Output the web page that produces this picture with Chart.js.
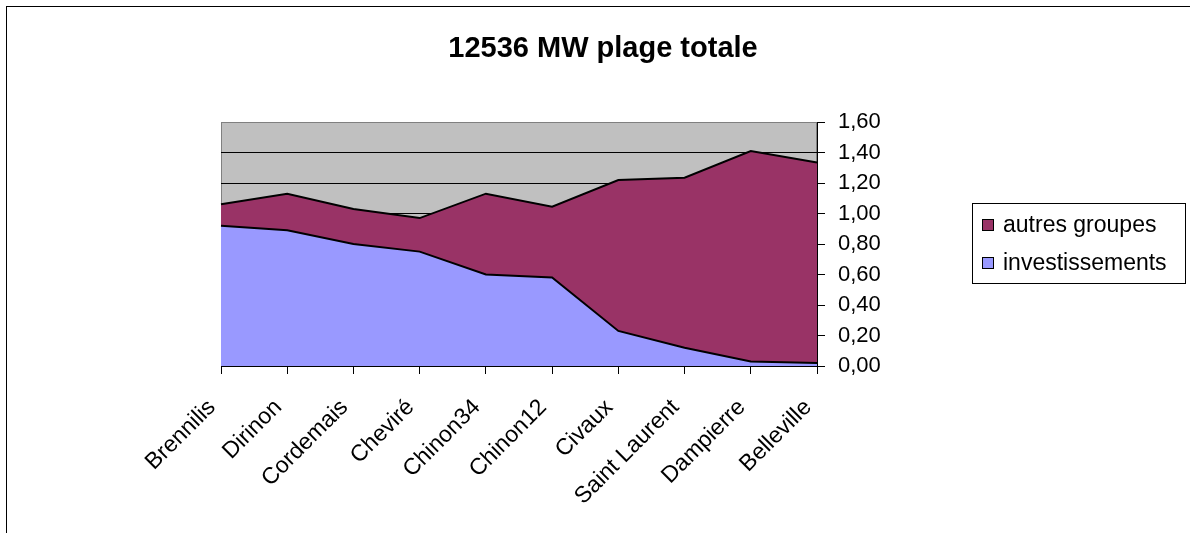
<!DOCTYPE html>
<html>
<head>
<meta charset="utf-8">
<script src="https://cdn.jsdelivr.net/npm/chart.js@4.4.1/dist/chart.umd.min.js"></script>
<style>
  html, body { margin: 0; padding: 0; background: #fff; }
  #wrap { width: 1190px; height: 533px; position: relative; }
</style>
</head>
<body>
<div id="wrap"><canvas id="c" width="1190" height="533"></canvas></div>
<script>
const chartTitle = "12536 MW plage totale";
const categories = ["Brennilis", "Dirinon", "Cordemais", "Cheviré", "Chinon34", "Chinon12", "Civaux", "Saint Laurent", "Dampierre", "Belleville"];
const investissements = [0.92, 0.89, 0.80, 0.75, 0.60, 0.58, 0.23, 0.12, 0.03, 0.02];
const autresGroupes   = [0.14, 0.24, 0.23, 0.22, 0.53, 0.465, 0.99, 1.115, 1.38, 1.315];
const seriesNames = ["investissements", "autres groupes"];
const yTicks = [0, 0.2, 0.4, 0.6, 0.8, 1.0, 1.2, 1.4, 1.6];

const FONT = 'Arial, "Liberation Sans", sans-serif';
const COL_INV = '#9999FF';
const COL_AUT = '#993366';

const decor = {
  id: 'decor',
  beforeDraw(chart) {
    const {ctx, chartArea: a} = chart;
    ctx.save();
    ctx.fillStyle = '#fff';
    ctx.fillRect(0, 0, chart.width, chart.height);
    ctx.strokeStyle = '#000';
    ctx.lineWidth = 1;
    ctx.strokeRect(6.5, 6.5, 1300, 700);
    ctx.fillStyle = '#C0C0C0';
    ctx.fillRect(a.left, a.top, a.right - a.left, a.bottom - a.top);
    ctx.strokeStyle = '#808080';
    ctx.strokeRect(a.left + 0.5, a.top + 0.5, a.right - a.left - 1, a.bottom - a.top - 1);
    ctx.restore();
  },
  afterDraw(chart) {
    const {ctx} = chart;
    ctx.save();
    ctx.fillStyle = '#000';
    ctx.font = 'bold 29px ' + FONT;
    ctx.textAlign = 'center';
    ctx.textBaseline = 'alphabetic';
    ctx.fillText(chartTitle, 603, 57);
    const lx = 972, ly = 203, lw = 213, lh = 80;
    ctx.strokeStyle = '#000';
    ctx.lineWidth = 1;
    ctx.strokeRect(lx + 0.5, ly + 0.5, lw, lh);
    const items = [[seriesNames[1], COL_AUT], [seriesNames[0], COL_INV]];
    ctx.font = '23px ' + FONT;
    ctx.textAlign = 'left';
    ctx.textBaseline = 'middle';
    items.forEach((it, i) => {
      const cy = 225 + i * 38;
      ctx.fillStyle = it[1];
      ctx.fillRect(982, cy - 6, 12, 12);
      ctx.strokeStyle = '#000';
      ctx.strokeRect(982.5, cy - 5.5, 11, 11);
      ctx.fillStyle = '#000';
      ctx.fillText(it[0], 1003, cy + 1);
    });
    ctx.restore();
  }
};

new Chart(document.getElementById('c'), {
  type: 'line',
  data: {
    labels: categories,
    datasets: [
      {
        label: seriesNames[0],
        data: investissements,
        backgroundColor: COL_INV,
        borderColor: '#000',
        borderWidth: 2,
        fill: 'origin',
        pointRadius: 0,
        tension: 0
      },
      {
        label: seriesNames[1],
        data: autresGroupes,
        backgroundColor: COL_AUT,
        borderColor: '#000',
        borderWidth: 2,
        fill: '-1',
        pointRadius: 0,
        tension: 0
      }
    ]
  },
  options: {
    responsive: false,
    animation: false,
    devicePixelRatio: 1,
    layout: { padding: { top: 122, left: 221, right: 0, bottom: 0 } },
    plugins: {
      legend: { display: false },
      title: { display: false },
      tooltip: { enabled: false },
      filler: { propagate: false }
    },
    scales: {
      x: {
        type: 'category',
        offset: false,
        afterFit(s) { s.height = 167; },
        grid: { display: true, drawOnChartArea: false, drawTicks: true, tickLength: 8, tickColor: '#000', lineWidth: 1 },
        border: { display: true, color: '#000', width: 1 },
        ticks: {
          autoSkip: false,
          minRotation: 45,
          maxRotation: 45,
          padding: 20,
          labelOffset: -9,
          color: '#000',
          font: { family: FONT, size: 23 }
        }
      },
      y: {
        position: 'right',
        stacked: true,
        min: 0,
        max: 1.6,
        afterFit(s) { s.width = 373; },
        afterBuildTicks(s) { s.ticks = yTicks.map(v => ({ value: v })); },
        grid: {
          drawOnChartArea: true,
          color: (c) => (c.tick && c.tick.value >= 1.59) ? '#808080' : '#000',
          tickColor: '#000',
          tickLength: 8,
          lineWidth: 1
        },
        border: { display: true, color: '#000', width: 1 },
        ticks: {
          padding: 13,
          color: '#000',
          font: { family: FONT, size: 22 },
          callback: (v) => Number(v).toFixed(2).replace('.', ',')
        }
      }
    }
  },
  plugins: [decor]
});
</script>
</body>
</html>
